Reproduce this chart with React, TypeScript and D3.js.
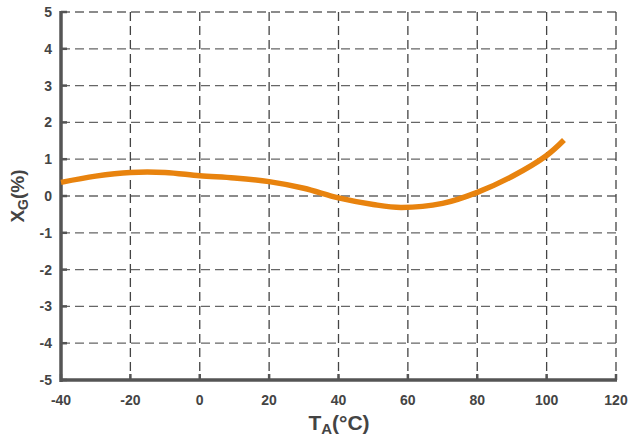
import React from "react";
import * as d3 from "d3";

const temps = [-40, -30, -20, -10, 0, 10, 20, 30, 40, 50, 58, 70, 80, 90, 100, 105];
const xg = [0.37, 0.54, 0.64, 0.64, 0.55, 0.49, 0.39, 0.21, -0.05, -0.23, -0.31, -0.2, 0.1, 0.53, 1.1, 1.52];
const xTicks = [-40, -20, 0, 20, 40, 60, 80, 100, 120];
const yTicks = [-5, -4, -3, -2, -1, 0, 1, 2, 3, 4, 5];

export default function App() {
  const W = 630, H = 441;
  const L = 61, R = 616, T = 12, B = 380;
  const x = d3.scaleLinear().domain([-40, 120]).range([L, R]);
  const y = d3.scaleLinear().domain([-5, 5]).range([B, T]);
  const pts = temps.map((t, i) => [t, xg[i]] as [number, number]);
  const line = d3.line<[number, number]>().x(d => x(d[0])).y(d => y(d[1])).curve(d3.curveCatmullRom.alpha(0.5));
  const font = "Arial, 'Liberation Sans', sans-serif";
  return (
    <svg width={W} height={H} style={{ position: "absolute", left: 0, top: 0 }}>
      <rect width={W} height={H} fill="#fff" />
      {yTicks.map(v => (
        <line key={"gy" + v} x1={L} x2={R} y1={y(v)} y2={y(v)} stroke="#666" strokeWidth={1.3} strokeDasharray="9,5" />
      ))}
      {xTicks.map(v => (
        <line key={"gx" + v} x1={x(v)} x2={x(v)} y1={T} y2={B} stroke="#444" strokeWidth={1.3} strokeDasharray="9,5" />
      ))}
      {yTicks.map(v => (
        <line key={"ty" + v} x1={L} x2={L + 6} y1={y(v)} y2={y(v)} stroke="#555" strokeWidth={2.5} />
      ))}
      {xTicks.map(v => (
        <line key={"tx" + v} x1={x(v)} x2={x(v)} y1={B} y2={B - 6} stroke="#555" strokeWidth={2.5} />
      ))}
      <line x1={L} x2={L} y1={T - 1} y2={B + 2} stroke="#555" strokeWidth={3.5} />
      <line x1={L - 1} x2={R + 1} y1={B} y2={B} stroke="#555" strokeWidth={3.5} />
      <path d={line(pts) || ""} fill="none" stroke="#E8830E" strokeWidth={5.5} strokeLinecap="butt" />
      {yTicks.map(v => (
        <text key={"ly" + v} x={L - 9} y={y(v) + 5} textAnchor="end" fontFamily={font} fontWeight="bold" fontSize={14} fill="#444">{v}</text>
      ))}
      {xTicks.map(v => (
        <text key={"lx" + v} x={x(v)} y={B + 25} textAnchor="middle" fontFamily={font} fontWeight="bold" fontSize={14} fill="#444">{v}</text>
      ))}
      <text x={339} y={430} textAnchor="middle" fontFamily={font} fontWeight="bold" fontSize={21} fill="#444">
        T<tspan fontSize={15} dy={4}>A</tspan><tspan dy={-4}>(°C)</tspan>
      </text>
      <text transform={`translate(24,${y(0)}) rotate(-90)`} textAnchor="middle" fontFamily={font} fontWeight="bold" fontSize={19} fill="#444">
        X<tspan fontSize={14} dy={4}>G</tspan><tspan dy={-4}>(%)</tspan>
      </text>
    </svg>
  );
}
